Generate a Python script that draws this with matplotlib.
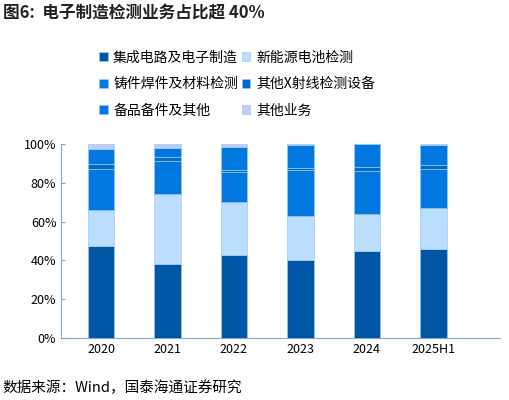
import matplotlib.pyplot as plt
import numpy as np

plt.rcParams['font.family'] = ['Noto Sans CJK SC', 'DejaVu Sans']

years = ['2020', '2021', '2022', '2023', '2024', '2025H1']
ic = [47.3, 38.0, 43.0, 40.0, 45.0, 46.0]
battery = [18.9, 36.1, 27.3, 22.9, 18.7, 21.0]
casting = [20.8, 16.9, 15.5, 23.6, 22.5, 19.9]
xray = [2.5, 2.1, 0.6, 1.2, 2.2, 2.2]
spare = [7.9, 4.7, 11.9, 11.8, 11.6, 10.5]
other = [2.6, 2.2, 1.7, 0.5, 0.0, 0.4]

series = [ic, battery, casting, xray, spare, other]
names = ['集成电路及电子制造', '新能源电池检测', '铸件焊件及材料检测',
         '其他X射线检测设备', '备品备件及其他', '其他业务']
colors = ['#0055A5', '#BBDDFF', '#0078E0', '#006AC8', '#0078E0', '#C0CCF8']

fig = plt.figure(figsize=(5.1, 4.0), dpi=100)
fig.text(0.005, 0.955, '图6:  电子制造检测业务占比超 40%', fontsize=12,
         fontweight='bold', color='#222222')
fig.text(0.005, 0.02, '数据来源：Wind，国泰海通证券研究', fontsize=10.5)

ax = fig.add_axes([0.12, 0.155, 0.86, 0.485])
x = np.arange(len(years))
bottom = np.zeros(len(years))
for vals, name, c in zip(series, names, colors):
    ax.bar(x, vals, 0.4, bottom=bottom, color=c, label=name,
           edgecolor='#9CC8F0', linewidth=0.5)
    bottom += np.array(vals)

ax.set_ylim(0, 100)
ax.set_xlim(-0.6, 6.0)
ax.set_yticks(range(0, 101, 20))
ax.set_yticklabels([f'{v}%' for v in range(0, 101, 20)], fontsize=9)
ax.set_xticks(x)
ax.set_xticklabels(years, fontsize=9)
for s in ['top', 'right']:
    ax.spines[s].set_visible(False)
ax.spines['left'].set_color('#7FA8D0')
ax.spines['bottom'].set_color('#7FA8D0')
ax.tick_params(axis='y', direction='in', colors='#7FA8D0', labelcolor='black', length=3)
ax.tick_params(axis='x', length=0)

handles, labels = ax.get_legend_handles_labels()
order = [0, 2, 4, 1, 3, 5]  # row-wise reading in a 2-column legend
fig.legend([handles[i] for i in order], [labels[i] for i in order], ncol=2,
           loc='upper left', bbox_to_anchor=(0.17, 0.905),
           frameon=False, fontsize=10, handlelength=0.6, handleheight=0.6,
           columnspacing=0.3, handletextpad=0.4, labelspacing=0.9)

fig.savefig('out.png', dpi=100)
